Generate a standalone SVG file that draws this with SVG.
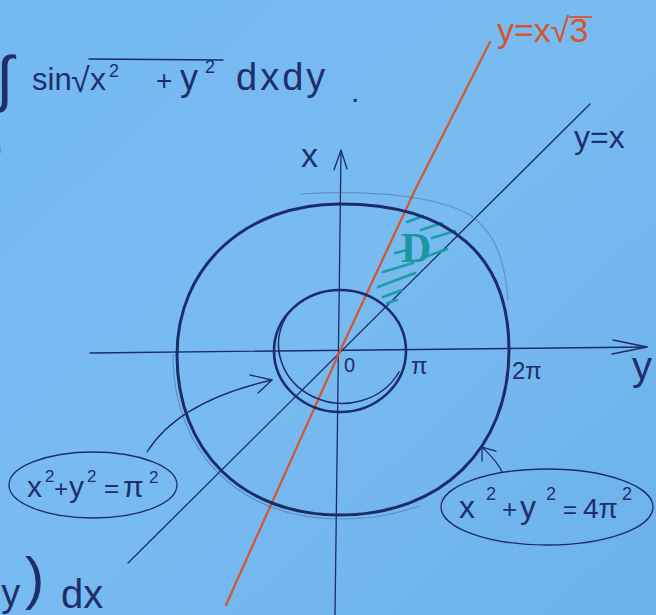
<svg xmlns="http://www.w3.org/2000/svg" width="656" height="615" viewBox="0 0 656 615">
<defs>
<linearGradient id="paper" x1="0" y1="0" x2="1" y2="1">
<stop offset="0" stop-color="#74b9f1"/>
<stop offset="0.5" stop-color="#78bbf1"/>
<stop offset="1" stop-color="#6cb1ea"/>
</linearGradient>
<style>
.ink{fill:none;stroke:#1d2c66;stroke-linecap:round;stroke-linejoin:round}
.thin{stroke-width:1.3}
.thick{stroke-width:3}
.faint{fill:none;stroke:#3c5478;stroke-width:1.2;opacity:0.4}
.red{fill:none;stroke:#d4552e;stroke-width:2.2;stroke-linecap:round}
.hatch{fill:none;stroke:#1b9ea6;stroke-width:2.6;stroke-linecap:round}
.t{font-family:"Liberation Sans",Arial,sans-serif;fill:#1f2f6a}
.tr{font-family:"Liberation Sans",Arial,sans-serif;fill:#d4552e}
</style>
</defs>
<rect width="656" height="615" fill="url(#paper)"/>

<g id="axes">
<line class="ink thin" x1="90" y1="353" x2="647" y2="347"/>
<polyline class="ink thin" points="613,340 647,347 612,354"/>
<line class="ink thin" x1="341" y1="152" x2="335" y2="615"/>
<polyline class="ink thin" points="334,170 341,150 347,169"/>
</g>

<g id="lines">
<line class="ink thin" x1="590" y1="104" x2="128" y2="563"/>
<polyline class="red" points="490,42 415,190 340,351 226,605"/>
</g>

<g id="region-D">
<line class="hatch" x1="407" y1="222" x2="423" y2="216"/>
<line class="hatch" x1="421" y1="230" x2="442" y2="223"/>
<line class="hatch" x1="432" y1="238" x2="455" y2="231"/>
<line class="hatch" x1="395" y1="253" x2="407" y2="250"/>
<line class="hatch" x1="422" y1="258" x2="447" y2="249"/>
<line class="hatch" x1="383" y1="272" x2="413" y2="263"/>
<line class="hatch" x1="378" y1="287" x2="415" y2="273"/>
<line class="hatch" x1="383" y1="297" x2="402" y2="290"/>
<line class="hatch" x1="387" y1="303" x2="397" y2="300"/>
<text x="401" y="262" font-family="Liberation Serif,Times New Roman,serif" font-weight="bold" font-size="42" fill="#1a979f">D</text>
</g>

<g id="outer-circle">
<path class="faint" d="M300,194 C380,189 440,198 470,215 C495,232 505,260 508,300"/>
<path class="faint" d="M173,355 C173,453 240,519 340,519 C380,519 400,512 420,506"/>
<path class="ink thick" d="M340,204 C450,204 509,255 509,350 C509,449 441,515 340,515 C242,515 177,451 177,355 C177,267 245,204 340,204 Z"/>
</g>

<g id="inner-circle">
<ellipse class="ink" stroke-width="2.6" cx="340" cy="351" rx="66" ry="61"/>
<path class="ink" stroke-width="1.5" d="M286,317 A63,58 0 0 0 399,372"/>
</g>

<g id="axis-labels">
<text class="t" x="301" y="167" font-size="34">x</text>
<text class="t" x="632" y="380" font-size="40">y</text>
<text class="t" x="344" y="372" font-size="20">0</text>
<text class="t" x="411" y="374" font-size="24">π</text>
<text class="t" x="512" y="379" font-size="24">2π</text>
<text class="t" x="574" y="148" font-size="32">y=x</text>
<text class="tr" x="497" y="42" font-size="34">y=x√3</text>
<line x1="569" y1="17" x2="592" y2="17" stroke="#d4552e" stroke-width="1.8"/>
</g>

<g id="formula">
<text class="t" x="-4" y="100" font-size="62">∫</text>
<text class="t" x="-8" y="158" font-size="30">)</text>
<text class="t" x="32" y="90" font-size="31">sin</text>
<text class="t" x="71" y="92" font-size="34">√</text>
<line class="ink" stroke-width="1.6" x1="89" y1="59" x2="223" y2="60"/>
<text class="t" x="90" y="90" font-size="32">x</text>
<text class="t" x="109" y="77" font-size="18">2</text>
<text class="t" x="156" y="90" font-size="28">+</text>
<text class="t" x="180" y="90" font-size="36">y</text>
<text class="t" x="205" y="73" font-size="18">2</text>
<text class="t" x="236" y="90" font-size="38" letter-spacing="3">dxdy</text>
<text class="t" x="351" y="102" font-size="30">.</text>
<text class="t" x="-20" y="606" font-size="38">dy</text>
<text class="t" x="25" y="598" font-size="58">)</text>
<text class="t" x="61" y="608" font-size="40">dx</text>
</g>

<g id="node-inner-label">
<ellipse class="ink thin" cx="93" cy="485" rx="84" ry="33"/>
<text class="t" x="27" y="497" font-size="30">x</text>
<text class="t" x="45" y="482" font-size="17">2</text>
<text class="t" x="54" y="497" font-size="24">+</text>
<text class="t" x="69" y="497" font-size="30">y</text>
<text class="t" x="87" y="482" font-size="17">2</text>
<text class="t" x="104" y="497" font-size="26">=</text>
<text class="t" x="123" y="497" font-size="30">π</text>
<text class="t" x="149" y="483" font-size="17">2</text>
</g>

<g id="node-outer-label">
<ellipse class="ink thin" cx="547" cy="507" rx="106" ry="38"/>
<text class="t" x="459" y="518" font-size="32">x</text>
<text class="t" x="486" y="500" font-size="18">2</text>
<text class="t" x="502" y="518" font-size="26">+</text>
<text class="t" x="520" y="518" font-size="32">y</text>
<text class="t" x="546" y="500" font-size="18">2</text>
<text class="t" x="563" y="518" font-size="24">=</text>
<text class="t" x="583" y="518" font-size="28">4π</text>
<text class="t" x="622" y="500" font-size="18">2</text>
</g>

<g id="connectors">
<path class="ink thin" d="M147,452 C170,415 215,393 272,380"/>
<polyline class="ink thin" points="250,375 272,380 258,393"/>
<path class="ink thin" d="M502,472 C498,462 490,455 483,448"/>
<polyline class="ink thin" points="482,461 482,447 496,451"/>
</g>
</svg>
